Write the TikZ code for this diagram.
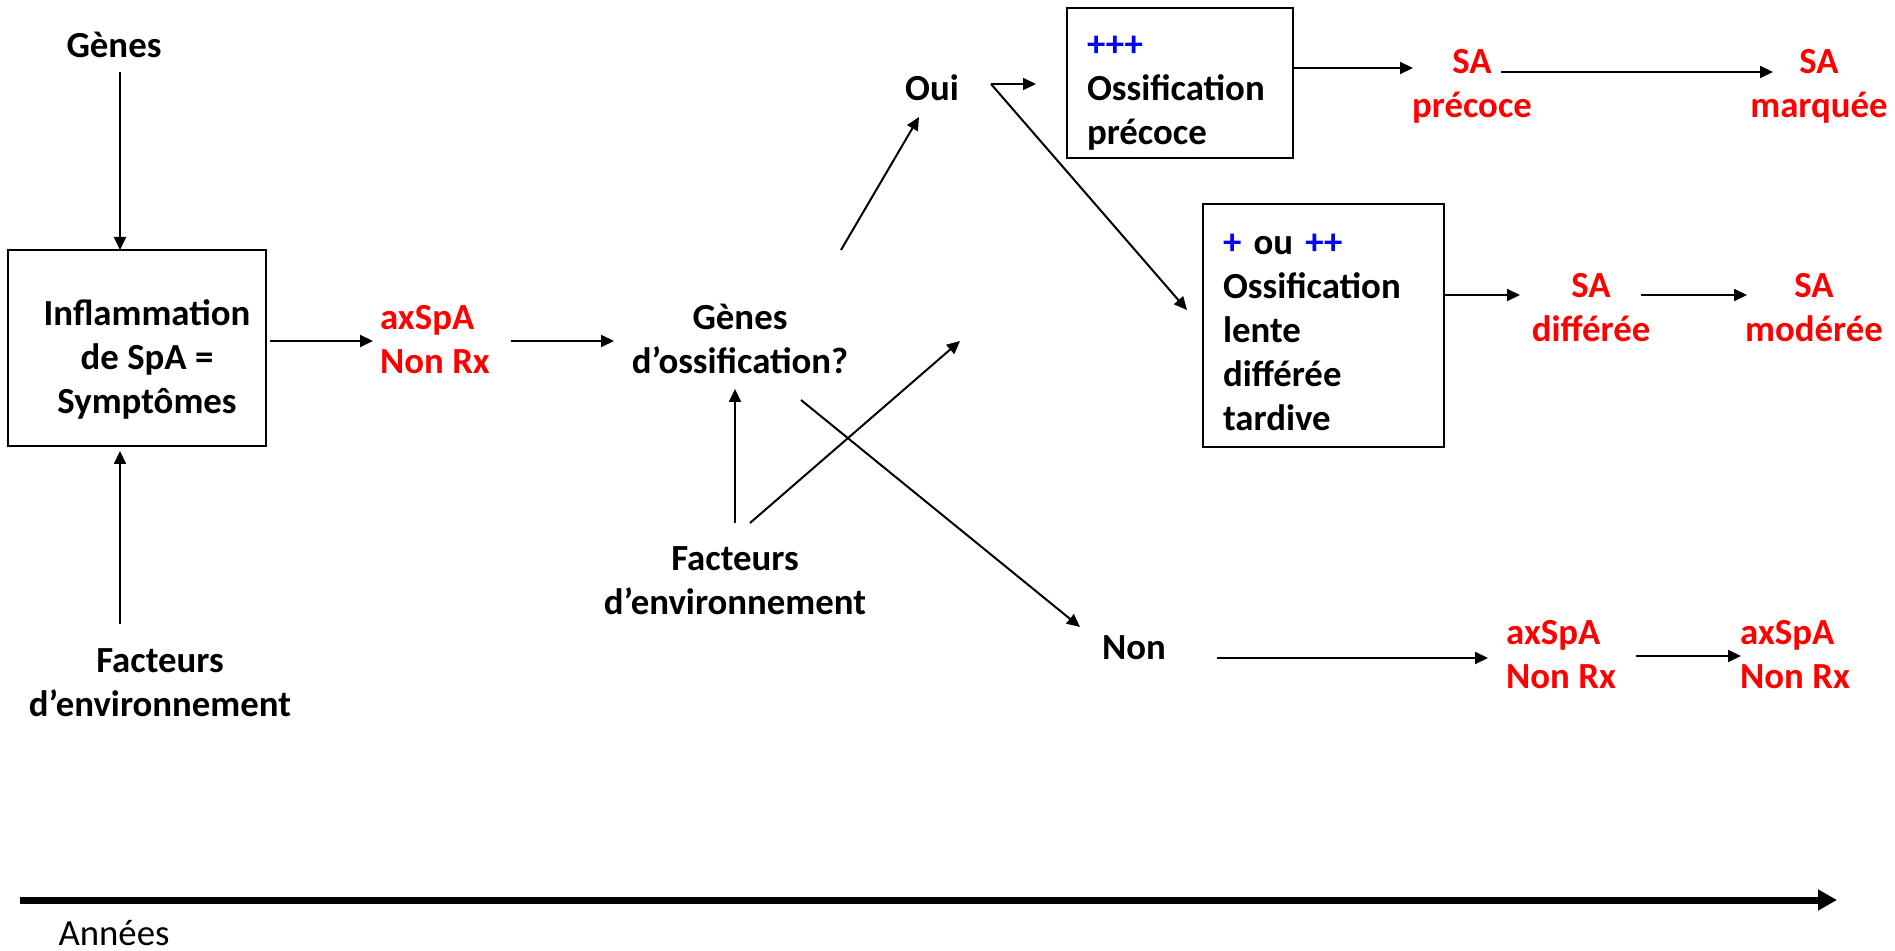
\documentclass[tikz,border=0pt]{standalone}
\usepackage{fontspec}
\setmainfont{Carlito}
\usetikzlibrary{arrows.meta}
\definecolor{rougevif}{RGB}{255,0,0}
\definecolor{bleuvif}{RGB}{0,0,255}

\begin{document}
\begin{tikzpicture}[
  x=0.25pt, y=-0.25pt,
  texte/.style={inner sep=0pt, align=center, font=\fontsize{9.2}{11}\selectfont\bfseries},
  issue/.style={texte, text=rougevif, align=left},
  boite/.style={draw, line width=0.6pt, inner sep=0pt},
  fleche/.style={-{Triangle[length=3.25pt, width=3pt]}, line width=0.5pt},
  axe/.style={-{Triangle[length=4.75pt, width=5pt]}, line width=1.75pt}
]
\useasboundingbox (0,0) rectangle (1895,951);
\node[texte] (genes) at (114,45) {Gènes};
\node[boite, minimum width=64.5pt, minimum height=49pt,
  label={[texte, xshift=2.5pt, yshift=-2.75pt]center:Inflammation\\de SpA =\\Symptômes}] (inflammation) at (137,348) {};
\node[texte] (facteurs) at (160,683) {Facteurs\\d’environnement};
\node[issue] (axspa) at (435,340) {axSpA\\Non Rx};
\node[texte] (ossif) at (740,339) {Gènes\\d’ossification?};
\node[texte] (environ) at (735,581) {Facteurs\\d’environnement};
\node[texte] (oui) at (932,88) {Oui};
\node[texte] (non) at (1134,648) {Non};
\node[boite, minimum width=56.5pt, minimum height=37.5pt,
  label={[texte, align=left, text width=46.5pt, yshift=-2.5pt]center:\textcolor{bleuvif}{+++}\\Ossification\\précoce}] (rapide) at (1180,83) {};
\node[boite, minimum width=60.25pt, minimum height=60.75pt,
  label={[texte, align=left, text width=50.25pt, yshift=-1.75pt]center:\textcolor{bleuvif}{+} ou \textcolor{bleuvif}{++}\\Ossification\\lente\\différée\\tardive}] (lente) at (1323.5,325.5) {};
\node[issue, align=center] (saprecoce) at (1472,86) {SA\\précoce};
\node[issue, align=center] (samarquee) at (1819,86) {SA\\marquée};
\node[issue, align=center] (sadifferee) at (1591,308) {SA\\différée};
\node[issue, align=center] (samoderee) at (1814,308) {SA\\modérée};
\node[issue] (axspab) at (1561,655) {axSpA\\Non Rx};
\node[issue] (axspac) at (1795,655) {axSpA\\Non Rx};
\node[inner sep=0pt, anchor=base, font=\fontsize{9.2}{11}\selectfont] (annees) at (114,945) {Années};
\coordinate (debut) at (20,900);
\coordinate (fin) at (1837,900);
\coordinate (cible) at (960,341);
\coordinate (fourche) at ([shift={(59,-4)}]oui.center);
\draw[fleche] ([shift={(6,27)}]genes.center) -- ([shift={(-17,-98)}]inflammation.center);
\draw[fleche] ([shift={(-40,-59)}]facteurs.center) -- ([shift={(-17,103)}]inflammation.center);
\draw[fleche] ([shift={(133,-7)}]inflammation.center) -- ([shift={(-62,1)}]axspa.center);
\draw[fleche] ([shift={(76,1)}]axspa.center) -- ([shift={(-126,2)}]ossif.center);
\draw[fleche] ([shift={(0,-58)}]environ.center) -- ([shift={(-5,50)}]ossif.center);
\draw[fleche] ([shift={(15,-58)}]environ.center) -- (cible);
\draw[fleche] ([shift={(61,61)}]ossif.center) -- ([shift={(-54,-21)}]non.center);
\draw[fleche] ([shift={(101,-89)}]ossif.center) -- ([shift={(-13,29)}]oui.center);
\draw[fleche] (fourche) -- ([shift={(-144,1)}]rapide.center);
\draw[fleche] (fourche) -- ([shift={(-136.5,-15.5)}]lente.center);
\draw[fleche] ([shift={(113,-15)}]rapide.center) -- ([shift={(-59,-18)}]saprecoce.center);
\draw[fleche] ([shift={(29,-14)}]saprecoce.center) -- ([shift={(-46,-14)}]samarquee.center);
\draw[fleche] ([shift={(120.5,-30.5)}]lente.center) -- ([shift={(-71,-13)}]sadifferee.center);
\draw[fleche] ([shift={(50,-13)}]sadifferee.center) -- ([shift={(-67,-13)}]samoderee.center);
\draw[fleche] ([shift={(83,10)}]non.center) -- ([shift={(-73,3)}]axspab.center);
\draw[fleche] ([shift={(75,1)}]axspab.center) -- ([shift={(-54,1)}]axspac.center);
\draw[axe] (debut) -- (fin);
\end{tikzpicture}
\end{document}
